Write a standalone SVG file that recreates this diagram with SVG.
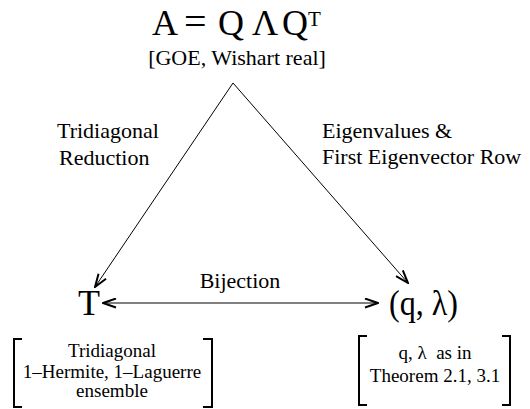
<svg xmlns="http://www.w3.org/2000/svg" width="530" height="409" viewBox="0 0 530 409" font-family="Liberation Serif" fill="#000">
<style>
.edge{stroke:#000;stroke-width:1;fill:none}
.br{stroke:#000;stroke-width:2;fill:none}
</style>
<defs>
<marker id="ah" viewBox="0 0 15 11" refX="14" refY="5.5" markerWidth="15" markerHeight="11" markerUnits="userSpaceOnUse" orient="auto-start-reverse">
<path d="M1,1 L14,5.5 L1,10" fill="none" stroke="#000" stroke-width="2"/>
</marker>
</defs>
<rect width="530" height="409" fill="#fff"/>
<g id="nodeA" font-family="Liberation Serif">
<text font-size="36" y="35"><tspan x="152">A</tspan><tspan x="184" font-size="40">=</tspan><tspan x="218">Q</tspan><tspan x="252">Λ</tspan><tspan x="282">Q</tspan></text>
<text x="308" y="26" font-size="21">T</text>
<text font-size="22" x="237" y="65" text-anchor="middle">[GOE, Wishart real]</text>
</g>
<g id="nodeT" font-family="Liberation Serif">
<text font-size="36" x="78" y="315">T</text>
<path class="br" d="M22,339 H14 V407 H22 M203,339 H212 V407 H203"/>
<text font-size="19" x="112" y="357" text-anchor="middle">Tridiagonal</text>
<text font-size="19" x="112" y="378" text-anchor="middle">1–Hermite, 1–Laguerre</text>
<text font-size="19" x="112" y="397" text-anchor="middle">ensemble</text>
</g>
<g id="nodeQL" font-family="Liberation Serif">
<text font-size="35" x="389" y="315" textLength="69" lengthAdjust="spacingAndGlyphs">(q, λ)</text>
<path class="br" d="M367,336 H359 V405 H367 M502,336 H510 V405 H502"/>
<text font-size="19" x="435" y="359" text-anchor="middle" xml:space="preserve">q, λ  as in</text>
<text font-size="19" x="435" y="382" text-anchor="middle">Theorem 2.1, 3.1</text>
</g>
<g id="connectors" font-family="Liberation Serif">
<path class="edge" d="M233,83 L95,287" marker-end="url(#ah)"/>
<path class="edge" d="M233,83 L408,283" marker-end="url(#ah)"/>
<path class="edge" d="M103,303 L378,303" marker-start="url(#ah)" marker-end="url(#ah)"/>
<text font-size="22" x="57" y="138">Tridiagonal</text>
<text font-size="22" x="59" y="165">Reduction</text>
<text font-size="22" x="322" y="138">Eigenvalues &amp;</text>
<text font-size="22" x="322" y="164">First Eigenvector Row</text>
<text font-size="22" x="240" y="288" text-anchor="middle">Bijection</text>
</g>
</svg>
